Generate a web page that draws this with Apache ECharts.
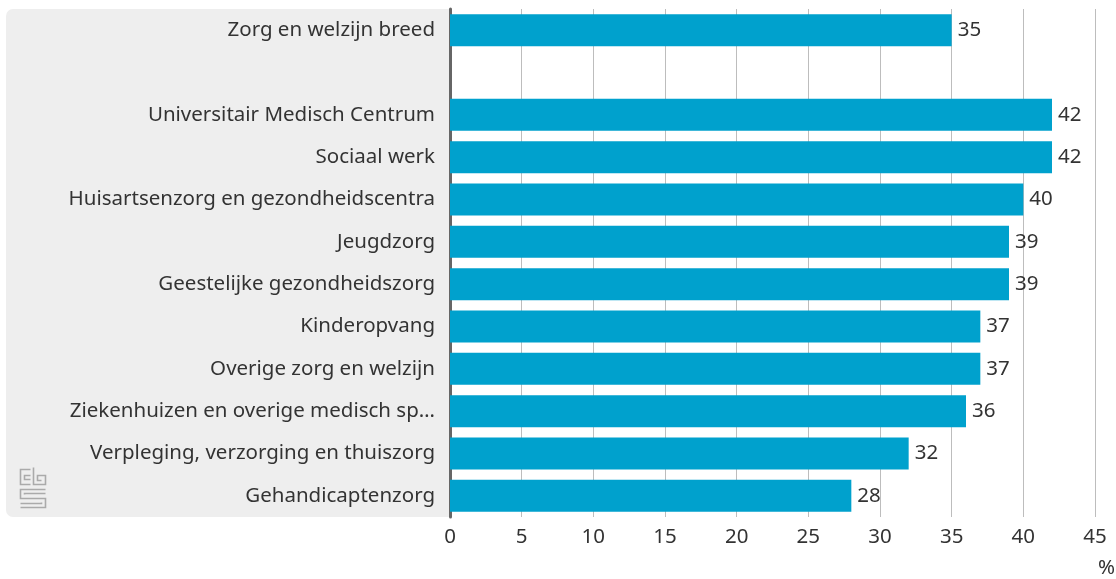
<!DOCTYPE html>
<html>
<head>
<meta charset="utf-8">
<script src="https://cdn.jsdelivr.net/npm/echarts@6/dist/echarts.min.js"></script>
<style>
  html, body { margin: 0; padding: 0; background: #fff; }
  #chart { width: 1116px; height: 579px; }
</style>
</head>
<body>
<div id="chart"></div>
<script>
// sectoren (lege regel als scheiding na het totaal)
var categories = [
  "Zorg en welzijn breed",
  "",
  "Universitair Medisch Centrum",
  "Sociaal werk",
  "Huisartsenzorg en gezondheidscentra",
  "Jeugdzorg",
  "Geestelijke gezondheidszorg",
  "Kinderopvang",
  "Overige zorg en welzijn",
  "Ziekenhuizen en overige medisch specialistische zorg",
  "Verpleging, verzorging en thuiszorg",
  "Gehandicaptenzorg"
];
var values = [35, "-", 42, 42, 40, 39, 39, 37, 37, 36, 32, 28];
var xTicks = [0, 5, 10, 15, 20, 25, 30, 35, 40, 45];

var font = "Noto Sans";
var fs = 20.5;
var chart = echarts.init(document.getElementById("chart"));

var option = {
  animation: false,
  grid: { left: 450, right: 21, top: 9, bottom: 62 },
  xAxis: {
    type: "value",
    min: xTicks[0],
    max: xTicks[xTicks.length - 1],
    interval: 5,
    axisLine: { show: false },
    axisTick: { show: false },
    splitLine: { lineStyle: { color: "#bdbdbd", width: 1 } },
    axisLabel: { color: "#333", fontSize: fs, fontFamily: font, margin: 10 }
  },
  yAxis: {
    type: "category",
    inverse: true,
    data: categories,
    axisLine: { show: true, lineStyle: { color: "#666", width: 3 } },
    axisTick: { show: false },
    axisLabel: {
      color: "#333",
      fontSize: fs,
      fontFamily: font,
      margin: 15,
      width: 369,
      overflow: "truncate",
      ellipsis: "…"
    }
  },
  series: [
    {
      type: "bar",
      data: values,
      barWidth: 32,
      itemStyle: { color: "#00a1cd" },
      label: {
        show: true,
        position: "right",
        distance: 6,
        color: "#333",
        fontSize: fs,
        fontFamily: font
      },
      z: 3
    }
  ],
  graphic: [
    {
      type: "rect",
      z: -10,
      shape: { x: 6, y: 9, width: 444, height: 508, r: [7, 0, 0, 7] },
      style: { fill: "#eeeeee" }
    },
    {
      type: "text",
      left: 1098,
      top: 558,
      style: { text: "%", fill: "#333", font: fs + "px " + font }
    },
    {
      // cbs-logo
      type: "group",
      left: 18,
      top: 465,
      children: [
        { type: "polyline", shape: { points: [[11, 2], [1, 2], [1, 17], [11, 17]] }, style: { stroke: "#aaa", lineWidth: 1.6, fill: null } },
        { type: "polyline", shape: { points: [[11, 8], [5, 8], [5, 12], [11, 12]] }, style: { stroke: "#aaa", lineWidth: 1.6, fill: null } },
        { type: "polyline", shape: { points: [[14, 0], [14, 17], [26, 17], [26, 8], [18, 8], [18, 13], [22, 13]] }, style: { stroke: "#aaa", lineWidth: 1.6, fill: null } },
        { type: "polyline", shape: { points: [[26, 22], [1, 22], [1, 31], [26, 31], [26, 40], [1, 40]] }, style: { stroke: "#aaa", lineWidth: 1.6, fill: null } },
        { type: "polyline", shape: { points: [[26, 26], [5, 26], [5, 27]] }, style: { stroke: "#aaa", lineWidth: 1.6, fill: null } },
        { type: "polyline", shape: { points: [[22, 35], [22, 36], [1, 36]] }, style: { stroke: "#aaa", lineWidth: 1.6, fill: null } }
      ]
    }
  ]
};

chart.setOption(option);
</script>
</body>
</html>
